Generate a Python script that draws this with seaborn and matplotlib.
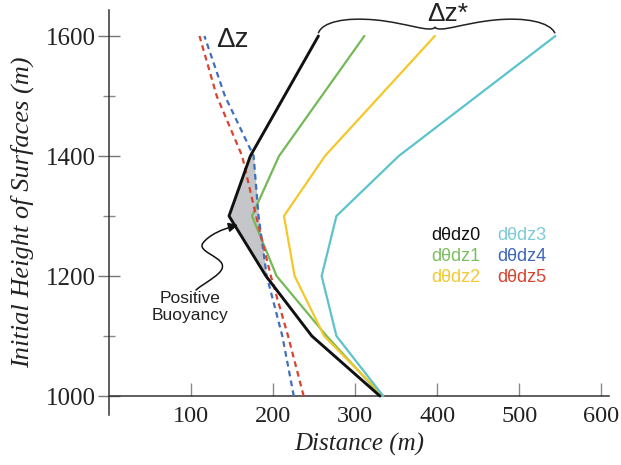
import numpy as np
import pandas as pd
import matplotlib
matplotlib.use("Agg")
import matplotlib.pyplot as plt
import seaborn as sns
from matplotlib.path import Path
from matplotlib.patches import FancyArrowPatch, PathPatch
from matplotlib.ticker import FixedLocator

# ---------------- data ----------------
heights_star = [1000, 1100, 1200, 1300, 1400, 1600]
heights_dz = [1000, 1100, 1200, 1300, 1400, 1500, 1600]

dthdz0 = [330, 247, 191, 146, 172, 255]
dthdz1 = [332, 265, 204, 174, 207, 311]
dthdz2 = [334, 262, 226, 213, 263, 397]
dthdz3 = [334, 277, 259, 277, 353, 544]
dthdz4 = [225, 211, 192, 182, 176, 141, 116]
dthdz5 = [237, 218, 197, 179, 162, 131, 110]

series_names = ["dθdz0", "dθdz1", "dθdz2", "dθdz3", "dθdz4", "dθdz5"]
series_vals = [dthdz0, dthdz1, dthdz2, dthdz3, dthdz4, dthdz5]
series_h = [heights_star] * 4 + [heights_dz] * 2
colors = ["#111111", "#74b957", "#f4c72a", "#5cc3cc", "#3f6fc1", "#d9432f"]
label_colors = ["#111111", "#7cbd60", "#f2c935", "#7ccbd5", "#3f66b8", "#d9432f"]

x_ticks = [100, 200, 300, 400, 500, 600]
y_major = [1000, 1200, 1400, 1600]
y_minor = [1100, 1300, 1500]

frames = []
for name, vals, hs in zip(series_names, series_vals, series_h):
    frames.append(pd.DataFrame({"series": name, "distance": vals, "height": hs}))
df = pd.concat(frames, ignore_index=True)

# ---------------- figure ----------------
sns.set_style("white")
plt.rcParams["font.family"] = ["Liberation Serif", "DejaVu Serif"]

W, H = 621, 465
fig = plt.figure(figsize=(W / 100, H / 100), dpi=100)
fig.patch.set_facecolor("white")
ax_l, ax_r, ax_t, ax_b = 109.3, 609.0, 10.0, 415.0
ax = fig.add_axes([ax_l / W, 1 - ax_b / H, (ax_r - ax_l) / W, (ax_b - ax_t) / H])
ax.set_facecolor("white")
ax.set_xlim(0, (ax_r - ax_l) / 0.82)
ax.set_ylim(1000 - (ax_b - 396) / 0.6, 1000 + (396 - ax_t) / 0.6)


def px(xp, yp):
    return ((xp - ax_l) / 0.82, 1000 + (396 - yp) / 0.6)


# positive-buoyancy shading between dθdz0 and dθdz4
grid = np.linspace(1000, 1600, 1201)
b0 = np.interp(grid, heights_star, dthdz0)
b4 = np.interp(grid, heights_dz, dthdz4)
ax.fill_betweenx(grid, b0, b4, where=b4 > b0, color="#c5c6c9", lw=0, zorder=1)

handles = []
for i, name in enumerate(series_names):
    sub = df[df["series"] == name]
    dashed = i >= 4
    sns.lineplot(
        data=sub, x="distance", y="height", orient="y", sort=True,
        estimator=None, color=colors[i], ax=ax, legend=False,
        lw=2.1 if i == 0 else 1.6,
        linestyle=(0, (2.6, 1.9)) if dashed else "-",
        zorder=5 if i == 0 else 3,
    )
    handles.append(ax.lines[-1])

# legend as coloured text
leg = ax.legend(
    handles, series_names, ncol=2, frameon=False, handlelength=0,
    handletextpad=0, columnspacing=0.95, labelspacing=0.22, borderpad=0,
    loc="upper left", bbox_to_anchor=(422 / W, 1 - 218 / H),
    bbox_transform=fig.transFigure,
    prop={"family": "Liberation Sans", "size": 13},
)
for t, c in zip(leg.get_texts(), label_colors):
    t.set_color(c)

# ---------------- axes styling ----------------
for s in ["top", "right"]:
    ax.spines[s].set_visible(False)
ax.spines["bottom"].set_position(("data", 1000))
ax.spines["bottom"].set_color("#333333")
ax.spines["left"].set_color("#333333")
ax.spines["bottom"].set_linewidth(1.1)
ax.spines["left"].set_linewidth(1.1)

ax.set_xticks(x_ticks)
ax.set_xticklabels([str(v) for v in x_ticks])
ax.tick_params(axis="x", bottom=True, direction="in", length=9.5, width=1,
               color="#8a8a8a", pad=7, labelsize=17.5, labelcolor="#222222")
ax.set_yticks(y_major)
ax.set_yticklabels([str(v) for v in y_major])
ax.yaxis.set_minor_locator(FixedLocator(y_minor))
ax.tick_params(axis="y", which="major", left=True, direction="inout", length=16,
               width=1, color="#777777", pad=2, labelsize=18, labelcolor="#222222")
ax.tick_params(axis="y", which="minor", left=True, direction="inout", length=8.5,
               width=1, color="#888888")

ax.set_xlabel("Distance (m)", fontsize=18, fontstyle="italic", color="#222222")
ax.xaxis.set_label_coords(0.5, ((H - 444) - (H - ax_b)) / (ax_b - ax_t),
                          transform=ax.transAxes)
ax.xaxis.label.set_verticalalignment("center")
ax.set_ylabel("Initial Height of Surfaces (m)", fontsize=19, fontstyle="italic",
              color="#222222")
ax.yaxis.set_label_coords((22 - ax_l) / (ax_r - ax_l), 0.5)
ax.yaxis.label.set_verticalalignment("center")

# ---------------- annotations ----------------
sans = {"family": "Liberation Sans"}
ax.text(*px(232, 40), "Δz", fontsize=20, ha="center", va="center",
        color="#222222", **sans)
ax.text(*px(448, 14), "Δz*", fontsize=19, ha="center", va="center",
        color="#222222", **sans)

# curly brace over the Δz* curves
brace_px = [
    (318.3, 33.3), (322, 22), (345, 17), (376, 20),
    (407, 23), (430, 33), (435, 27.3),
    (440, 33), (463, 23), (495, 20),
    (525, 17), (550, 22), (555, 33.3),
]
codes = [Path.MOVETO] + [Path.CURVE4] * 12
brace = Path([px(*p) for p in brace_px], codes)
ax.add_patch(PathPatch(brace, fill=False, lw=1.1, color="#222222",
                       clip_on=False, zorder=6))

# wavy arrow for positive buoyancy
arrow_px = [
    (196, 290), (205, 282), (226, 273), (222, 264),
    (219, 256), (197, 251), (203, 243),
    (209, 235), (222, 229), (238, 225),
]
acodes = [Path.MOVETO] + [Path.CURVE4] * 9
arrow = FancyArrowPatch(path=Path([px(*p) for p in arrow_px], acodes),
                        arrowstyle="-|>", mutation_scale=14, lw=1.1,
                        color="#111111", zorder=7)
ax.add_patch(arrow)
ax.text(*px(190, 307), "Positive\nBuoyancy", fontsize=12.5, ha="center",
        va="center", linespacing=1.1, color="#222222", **sans)

fig.savefig("out.png", dpi=100, facecolor="white")
